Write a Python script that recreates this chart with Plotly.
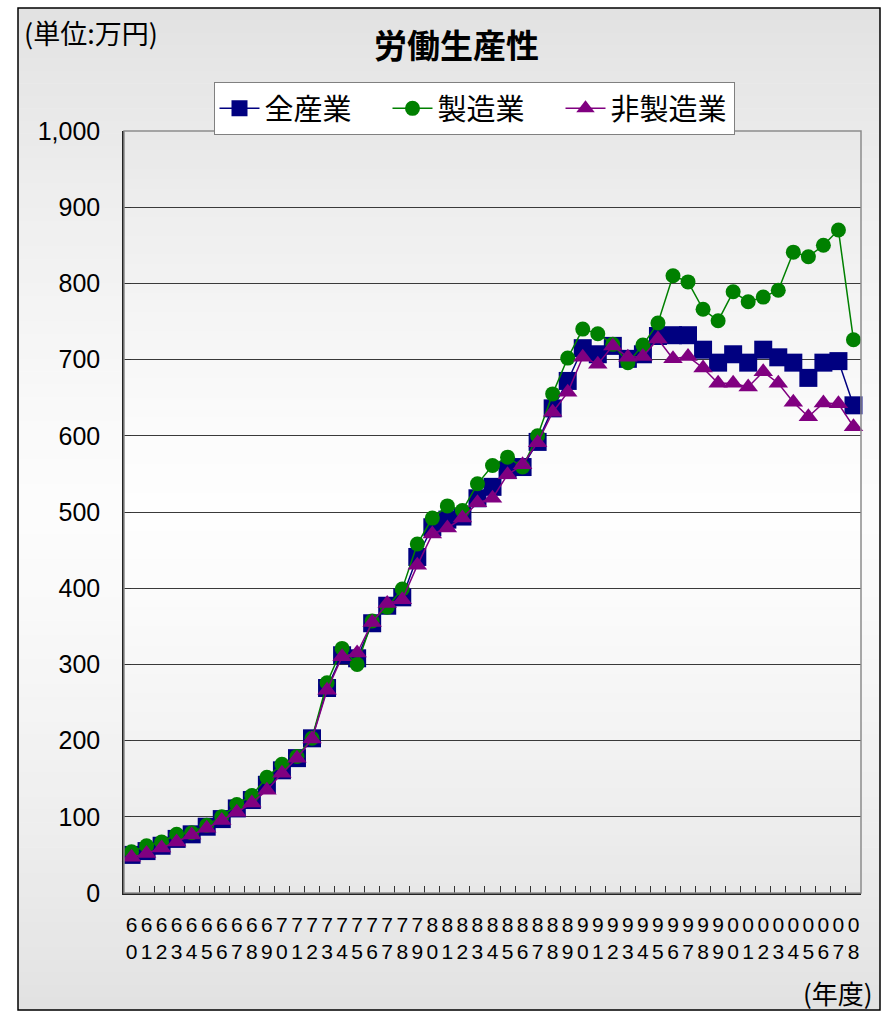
import plotly.graph_objects as go

# Fiscal years on the category axis
years = [1960, 1961, 1962, 1963, 1964, 1965, 1966, 1967, 1968, 1969,
         1970, 1971, 1972, 1973, 1974, 1975, 1976, 1977, 1978, 1979,
         1980, 1981, 1982, 1983, 1984, 1985, 1986, 1987, 1988, 1989,
         1990, 1991, 1992, 1993, 1994, 1995, 1996, 1997, 1998, 1999,
         2000, 2001, 2002, 2003, 2004, 2005, 2006, 2007, 2008]

# Labour productivity (10,000 yen)
all_industries = [50, 55, 62, 71, 77, 87, 97, 111, 122, 142,
                  161, 177, 203, 269, 312, 308, 354, 377, 388, 441,
                  480, 490, 494, 518, 533, 555, 559, 592, 636, 672,
                  715, 707, 718, 701, 707, 731, 732, 732, 713, 696,
                  707, 696, 713, 703, 696, 676, 696, 698, 640]
manufacturing = [54, 62, 67, 77, 79, 89, 100, 116, 128, 152,
                 169, 179, 203, 276, 321, 300, 357, 375, 399, 458,
                 492, 508, 502, 537, 561, 572, 559, 600, 655, 702,
                 740, 734, 720, 696, 719, 748, 810, 802, 766, 751,
                 789, 776, 782, 791, 841, 835, 850, 870, 726]
non_manufacturing = [47, 52, 59, 67, 76, 85, 95, 106, 118, 135,
                     157, 177, 202, 266, 310, 315, 355, 380, 385, 430,
                     471, 479, 492, 512, 518, 549, 562, 591, 631, 657,
                     703, 694, 718, 703, 704, 727, 701, 704, 689, 669,
                     669, 664, 684, 669, 644, 625, 643, 642, 612]

series_names = ["全産業", "製造業", "非製造業"]
y_ticks = [0, 100, 200, 300, 400, 500, 600, 700, 800, 900, 1000]

# Two-row year labels: tens digit above, units digit below
x_labels = [f"{str(y)[2]}<br>{str(y)[3]}" for y in years]

W, H = 883, 1014
L, R, T, B = 124, 22, 131, 121
PW, PH = W - L - R, H - T - B


def px_x(px):
    return (px - L) / PW


def px_y(py):
    return (H - B - py) / PH


def grey(v):
    v = max(0, min(255, int(round(v))))
    return f"rgb({v},{v},{v})"


def band_value(t, edge, mid):
    # light in the middle, darker at top and bottom
    d = abs(t - 0.5) * 2
    return mid + (edge - mid) * d ** 1.3


shapes = []
# chart-area gradient
x0, x1, y0, y1 = 18, 880, 8, 1010
n = 80
for i in range(n):
    ta, tb = i / n, (i + 1) / n
    c = grey(band_value((i + 0.5) / n, 226, 252))
    shapes.append(dict(type="rect", xref="paper", yref="paper", layer="below",
                       x0=px_x(x0), x1=px_x(x1),
                       y0=px_y(y0 + (y1 - y0) * ta), y1=px_y(y0 + (y1 - y0) * tb + 0.6),
                       fillcolor=c, line=dict(width=0)))
# plot-area gradient
for i in range(n):
    ta, tb = i / n, (i + 1) / n
    c = grey(band_value((i + 0.5) / n, 232, 254))
    shapes.append(dict(type="rect", xref="paper", yref="paper", layer="below",
                       x0=0, x1=1, y0=1 - ta, y1=1 - tb - 0.002,
                       fillcolor=c, line=dict(width=0)))
# outer frame
shapes.append(dict(type="rect", xref="paper", yref="paper", layer="below",
                   x0=px_x(x0), x1=px_x(x1), y0=px_y(y0), y1=px_y(y1),
                   fillcolor="rgba(0,0,0,0)", line=dict(color="black", width=1.5)))
# plot-area border (top/right grey)
shapes.append(dict(type="rect", xref="paper", yref="paper", layer="above",
                   x0=0, x1=1, y0=0, y1=1,
                   fillcolor="rgba(0,0,0,0)", line=dict(color="#8c8c8c", width=1.5)))

fig = go.Figure()
styles = [
    dict(color="#000080", symbol="square", size=18),
    dict(color="#008000", symbol="circle", size=15),
    dict(color="#800080", symbol="triangle-up", size=17),
]
for name, vals, st in zip(series_names, [all_industries, manufacturing, non_manufacturing], styles):
    fig.add_trace(go.Scatter(
        x=x_labels, y=vals, name=name, mode="lines+markers",
        line=dict(color=st["color"], width=1.5),
        marker=dict(color=st["color"], symbol=st["symbol"], size=st["size"],
                    line=dict(width=0)),
        cliponaxis=False,
    ))

fig.update_layout(
    width=W, height=H,
    margin=dict(l=L, r=R, t=T, b=B, pad=0),
    paper_bgcolor="white",
    plot_bgcolor="rgba(0,0,0,0)",
    shapes=shapes,
    showlegend=True,
    legend=dict(
        orientation="h", x=px_x(474), xanchor="center", y=px_y(82), yanchor="top",
        bgcolor="white", bordercolor="#808080", borderwidth=1,
        font=dict(family="Noto Sans CJK JP", size=29, color="black"),
        itemwidth=40, tracegroupgap=0, entrywidth=118, entrywidthmode="pixels",
    ),
    annotations=[
        dict(text="<b>労働生産性</b>", xref="paper", yref="paper",
             x=px_x(456), y=px_y(44), xanchor="center", yanchor="middle",
             showarrow=False, font=dict(family="Noto Sans CJK JP", size=33, color="black")),
        dict(text="(単位:万円)", xref="paper", yref="paper",
             x=px_x(22), y=px_y(33), xanchor="left", yanchor="middle",
             showarrow=False, font=dict(family="Noto Sans CJK JP", size=27, color="black")),
        dict(text="(年度)", xref="paper", yref="paper",
             x=px_x(875), y=px_y(993), xanchor="right", yanchor="middle",
             showarrow=False, font=dict(family="Noto Sans CJK JP", size=26, color="black")),
    ],
)

fig.update_xaxes(
    type="category", range=[-0.5, len(years) - 0.5],
    tickmode="array", tickvals=x_labels, ticktext=x_labels,
    tickson="boundaries", ticks="inside", ticklen=7, tickcolor="#333333", tickwidth=1,
    showgrid=False, showline=True, linecolor="#222222", linewidth=1.5,
    tickangle=0, ticklabelstandoff=12,
    tickfont=dict(family="Liberation Sans", size=21, color="black"),
    zeroline=False, fixedrange=True,
)
fig.update_yaxes(
    range=[0, 1000], tickvals=y_ticks, tickformat=",d",
    ticks="inside", ticklen=7, tickcolor="#333333",
    showgrid=True, gridcolor="#3a3a3a", gridwidth=1,
    showline=True, linecolor="#222222", linewidth=1.5,
    ticklabelstandoff=17,
    tickfont=dict(family="Liberation Sans", size=25, color="black"),
    zeroline=False, fixedrange=True,
)

fig.write_html("out.html")
